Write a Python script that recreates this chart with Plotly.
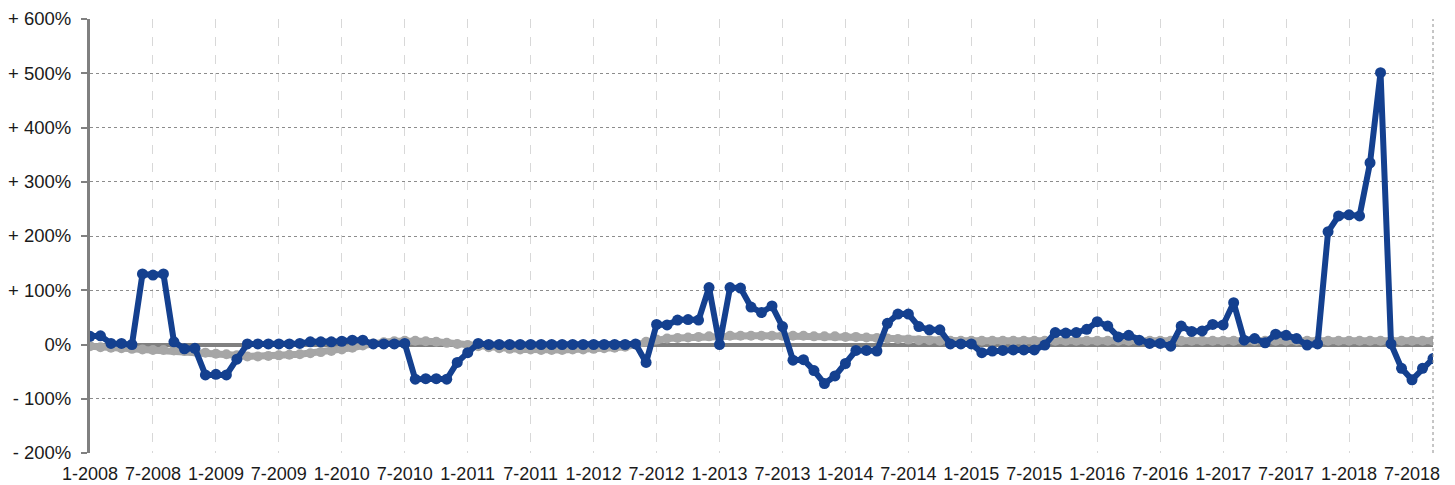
import plotly.graph_objects as go

# month categories 1-2008 .. 9-2018
months = [f"{m}-{y}" for y in range(2008, 2019) for m in range(1, 13)][:129]

blue_values = [
    15, 16, 2, 2, 0, 130, 128, 130, 5, -8, -7, -56,          # 2008
    -55, -56, -27, 1, 1, 1, 1, 1, 2, 5, 5, 5,                # 2009
    6, 8, 8, 1, 1, 1, 2, -64, -63, -63, -64, -33,           # 2010
    -15, 2, 0, 0, 0, 0, 0, 0, 0, 0, 0, 0,                    # 2011
    0, 0, 0, 0, 1, -33, 37, 36, 45, 46, 45, 105,             # 2012
    0, 105, 104, 69, 59, 71, 33, -29, -28, -48, -72, -58,    # 2013
    -35, -11, -11, -12, 39, 56, 56, 33, 27, 27, 1, 1,        # 2014
    1, -15, -12, -11, -10, -10, -10, -1, 22, 21, 22, 28,     # 2015
    42, 34, 14, 17, 8, 2, 2, -3, 34, 24, 25, 37,             # 2016
    36, 77, 8, 11, 3, 19, 17, 11, -1, 1, 208, 237,           # 2017
    239, 237, 335, 501, 1, -44, -65, -44, -26                # 2018
]

gray_values = [
    -3, -5, -6, -7, -8, -9, -10, -10, -11, -12, -13, -15,
    -17, -18, -20, -22, -22, -21, -20, -19, -18, -16, -14, -12,
    -9, -6, -2, 2, 4, 6, 7, 7, 6, 5, 3, 1,
    -1, -3, -5, -7, -8, -9, -9, -10, -10, -10, -9, -9,
    -8, -7, -6, -4, 0, 5, 9, 11, 12, 13, 14, 15,
    15, 16, 16, 16, 16, 16, 16, 16, 16, 15, 15, 15,
    14, 14, 13, 12, 11, 10, 9, 8, 8, 7, 7, 7,
    7, 7, 7, 7, 7, 7, 7, 7, 7, 7, 7, 7,
    7, 7, 7, 7, 7, 7, 7, 7, 7, 7, 7, 7,
    7, 7, 7, 7, 7, 7, 7, 7, 7, 7, 7, 7,
    7, 7, 7, 7, 7, 7, 7, 7, 7
]

y_ticks = [600, 500, 400, 300, 200, 100, 0, -100, -200]
y_tick_text = ["+ 600%", "+ 500%", "+ 400%", "+ 300%", "+ 200%", "+ 100%", "0%", "- 100%", "- 200%"]
x_ticks = months[::6]

BLUE = "#14408f"
GRAY = "#a6a6a6"

fig = go.Figure()
fig.add_trace(go.Scatter(
    x=months, y=gray_values, mode="lines+markers",
    line=dict(color=GRAY, width=7), marker=dict(color=GRAY, size=10),
    showlegend=False, hoverinfo="skip"))
fig.add_trace(go.Scatter(
    x=months, y=blue_values, mode="lines+markers",
    line=dict(color=BLUE, width=6), marker=dict(color=BLUE, size=11),
    showlegend=False))

# page body has an 8px default margin, so the figure is sized to sit inside the window
fig.update_layout(
    width=1447, height=477,
    margin=dict(l=82, r=22, t=11, b=32, autoexpand=False),
    paper_bgcolor="white", plot_bgcolor="white",
    font=dict(family="Liberation Sans, Arial, Helvetica, sans-serif", size=18.5, color="#1a1a1a"),
    xaxis=dict(
        type="category", categoryorder="array", categoryarray=months,
        range=[0, len(months) - 1], automargin=False,
        tickmode="array", tickvals=x_ticks, ticktext=x_ticks,
        showgrid=True, gridcolor="#d8d8d8", griddash="dash", gridwidth=1,
        showline=False, ticks="", zeroline=False,
        ticklabelstandoff=8, tickfont=dict(size=18),
    ),
    yaxis=dict(
        range=[-200, 600], automargin=False,
        tickmode="array", tickvals=y_ticks, ticktext=y_tick_text,
        showgrid=True, gridcolor="#8c8c8c", griddash="dot", gridwidth=1,
        zeroline=True, zerolinecolor="#808080", zerolinewidth=4,
        showline=True, linecolor="#808080", linewidth=3,
        ticks="outside", ticklen=6, tickwidth=2, tickcolor="#808080",
        ticklabelstandoff=6,
    ),
    shapes=[dict(type="line", xref="paper", yref="paper", x0=1, x1=1, y0=0, y1=1,
                 line=dict(color="#8c8c8c", width=1, dash="dot"))],
)

fig.write_html("out.html")
